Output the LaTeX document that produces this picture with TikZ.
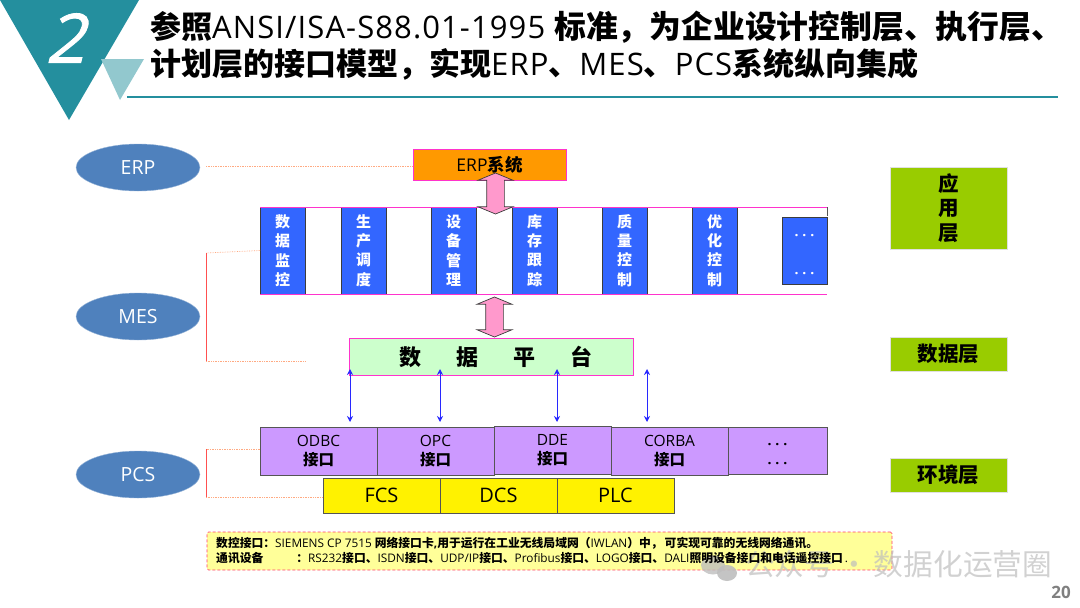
\documentclass[tikz,border=0pt]{standalone}
\usepackage{fontspec}
\setmainfont{Open Sans}
\newfontfamily\cjkfont{Noto Sans CJK SC}
\newfontfamily\numfont[FakeSlant=0.25,FakeBold=1.2]{Open Sans}
\usetikzlibrary{arrows.meta, shapes.geometric, shapes.arrows, positioning}
\newcommand{\cn}[1]{{\cjkfont\bfseries #1}}
\newcommand{\fsz}[2]{\fontsize{#1}{#2}\selectfont}
\newcommand{\dotrow}[1]{\smash{\raisebox{#1}{\bfseries\addfontfeature{LetterSpace=27}···}}}
\definecolor{tealdark}{RGB}{36, 143, 158}
\definecolor{teallight}{RGB}{146, 200, 206}
\definecolor{ovalblue}{RGB}{79, 129, 189}
\definecolor{erporange}{RGB}{255, 153, 0}
\definecolor{bordermagenta}{RGB}{255, 51, 204}
\definecolor{appblue}{RGB}{51, 102, 255}
\definecolor{platgreen}{RGB}{204, 255, 204}
\definecolor{ifacepurple}{RGB}{204, 153, 255}
\definecolor{layergreen}{RGB}{153, 204, 0}
\definecolor{notefill}{RGB}{255, 255, 153}
\definecolor{noteborder}{RGB}{255, 60, 110}
\definecolor{linkorange}{RGB}{255, 170, 130}
\definecolor{linkred}{RGB}{255, 80, 80}
\definecolor{borderdark}{RGB}{85, 85, 85}
\definecolor{markgray}{RGB}{190, 190, 190}
\definecolor{arrowpink}{RGB}{255, 153, 204}
\definecolor{arrowblue}{RGB}{40, 40, 255}
\tikzset{
  ovalbox/.style={
    ellipse, fill=ovalblue, draw=ovalblue!60!white, line width=0.4pt,
    minimum width=124pt, minimum height=47pt, inner sep=0pt,
    text=white, font=\fsz{19.5}{22}
  },
  erpbox/.style={
    rectangle, draw=bordermagenta, fill=erporange, line width=0.8pt,
    minimum width=153pt, minimum height=31pt, inner sep=0pt, font=\fsz{17.5}{20}
  },
  appbox/.style={
    rectangle, draw=borderdark!70!black, fill=appblue, line width=0.8pt, outer sep=0pt,
    minimum width=45pt, minimum height=87pt, inner sep=0pt, align=center,
    text=white, font=\cjkfont\bfseries\fsz{15}{19.4}
  },
  platbox/.style={
    rectangle, draw=bordermagenta, fill=platgreen, line width=0.8pt,
    minimum width=284pt, minimum height=37pt, inner sep=0pt,
    font=\cjkfont\bfseries\fsz{22}{24}
  },
  ifacebox/.style={
    rectangle, draw=borderdark, fill=ifacepurple, line width=0.8pt, outer sep=0pt,
    minimum width=117pt, minimum height=48pt, inner sep=0pt, align=center,
    font=\fsz{15.5}{19}
  },
  ctrlbox/.style={
    rectangle, draw=borderdark, fill=yellow, line width=0.8pt, outer sep=0pt,
    minimum width=117pt, minimum height=35pt, inner sep=0pt, font=\fsz{20}{22}
  },
  layerbox/.style={
    rectangle, draw=black!12, fill=layergreen, line width=0.6pt,
    minimum width=117pt, minimum height=34pt, inner sep=0pt, align=center,
    font=\cjkfont\bfseries\fsz{20.5}{24.5}
  },
  notebox/.style={
    rectangle, rounded corners=1.5pt, draw=noteborder, fill=notefill,
    line width=0.6pt, densely dashed,
    minimum width=685pt, minimum height=38pt, inner sep=0pt
  },
  notetext/.style={anchor=base west, inner sep=0pt, font=\fsz{11.8}{13}},
  titletext/.style={anchor=base west, inner sep=0pt, font=\fsz{31}{34}\addfontfeature{LetterSpace=3.5}},
  bandline/.style={bordermagenta, line width=1pt},
  dotlink/.style={linkorange, line width=0.7pt, densely dotted},
  redlink/.style={linkred, line width=0.7pt},
  pinkarrow/.style={
    double arrow, rotate=90, draw=borderdark!70!black, fill=arrowpink, line width=0.7pt,
    minimum height=41pt, minimum width=34pt, inner xsep=0pt, inner ysep=8.5pt,
    double arrow head extend=8.5pt, double arrow tip angle=135
  },
  bluearrow/.style={{Stealth[length=6pt,width=6pt]}-{Stealth[length=6pt,width=6pt]}, arrowblue, line width=1pt}
}
\begin{document}
\begin{tikzpicture}[x=1pt, y=-1pt]
  \useasboundingbox (0,0) rectangle (1080,608);

  %% ---- Heading ----
  \fill[tealdark] (0,0) -- (139,0) -- (69,120) -- cycle;
  \fill[teallight] (101,59) -- (144,59) -- (120,100) -- cycle;
  \draw[tealdark, line width=1.2pt] (127,97) -- (1058,97);
  \node[text=white, inner sep=0pt, font=\numfont\fsz{68}{70}] (headnum) at (65,38) {2};
  \node[titletext] (title1) at (150,38)
    {\cn{参照}ANSI/ISA-S88.01-1995 \cn{\fsz{31.8}{34}标准，为企业设计控制层、执行层、}};
  \node[titletext] (title2) at (150,75)
    {\cn{计划层的接口模型，实现}ERP\cn{、}MES\cn{、}PCS\cn{系统纵向集成}};

  %% ---- Left column ----
  \node[ovalbox] (erp) at (138,167.5) {ERP};
  \node[ovalbox] (mes) at (138,316.5) {MES};
  \node[ovalbox] (pcs) at (138,474.5) {PCS};

  %% ---- ERP system ----
  \node[erpbox] (erpsys) at (489.5,164.5) {ERP\cn{系统}};

  %% ---- MES band ----
  \coordinate (bandnw) at (260,207);
  \coordinate (bandne) at (827,207);
  \coordinate (bandsw) at (260,294);
  \coordinate (bandse) at (827,294);
  \coordinate (bandstub) at (827,216);
  \draw[borderdark, line width=0.8pt] (bandne) -- (bandstub);

  \node[appbox] (app1) at (282.5,250.5) {数\\据\\监\\控};
  \node[appbox, right=36pt of app1] (app2) {生\\产\\调\\度};
  \node[appbox, right=45pt of app2] (app3) {设\\备\\管\\理};
  \node[appbox, right=36pt of app3] (app4) {库\\存\\跟\\踪};
  \node[appbox, right=45pt of app4] (app5) {质\\量\\控\\制};
  \node[appbox, right=45pt of app5] (app6) {优\\化\\控\\制};
  \node[appbox, minimum height=67pt, font=\fsz{14}{38}] (app7) at (804.5,250.5) {\dotrow{-8.5pt}\\\dotrow{-8.5pt}};

  \draw[bandline] (bandnw) -- (bandne);
  \draw[bandline] (bandsw) -- (bandse);

  %% ---- Data platform ----
  \node[platbox] (plat) at (491,356.5)
    {\hspace{10pt}数\hspace{35pt}据\hspace{35pt}平\hspace{35pt}台};

  %% ---- Interfaces ----
  \node[ifacebox] (odbc) at (318.5,451) {ODBC\\\cn{接口}};
  \node[ifacebox, right=0pt of odbc] (opc) {OPC\\\cn{接口}};
  \node[ifacebox, right=0pt of opc, yshift=1pt] (dde) {DDE\\\cn{接口}};
  \node[ifacebox, right=0pt of dde, yshift=-1pt] (corba) {CORBA\\\cn{接口}};
  \node[ifacebox, minimum width=99pt, minimum height=47pt, font=\fsz{14}{19}] (ifmore) at (777.5,450.5) {\dotrow{-8pt}\\\dotrow{-8pt}};

  %% ---- Control systems ----
  \node[ctrlbox] (fcs) at (381.5,495.5) {FCS};
  \node[ctrlbox, right=0pt of fcs] (dcs) {DCS};
  \node[ctrlbox, right=0pt of dcs] (plc) {PLC};

  %% ---- Layers ----
  \node[layerbox, minimum height=82pt] (applayer) at (948.5,208) {应\\用\\层};
  \node[layerbox] (datalayer) at (948.5,354) {数据层};
  \node[layerbox] (envlayer) at (948.5,475) {环境层};

  %% ---- Level links ----
  \coordinate (erpend) at (206,166);
  \coordinate (mestop) at (206,253);
  \coordinate (mesbot) at (206,361);
  \coordinate (mesfoot) at (305,361);
  \coordinate (pcstop) at (206,449);
  \coordinate (pcsbot) at (206,497);
  \draw[dotlink] (erpend) -- (erpsys.west |- erpend);
  \draw[dotlink] (app1.west) -- (mestop);
  \draw[redlink] (mestop) -- (mesbot);
  \draw[dotlink] (mesbot) -- (mesfoot);
  \draw[dotlink] (odbc.west |- pcstop) -- (pcstop);
  \draw[redlink] (pcstop) -- (pcsbot);
  \draw[dotlink] (pcsbot) -- (fcs.west |- pcsbot);

  %% ---- Pink double arrows ----
  \node[pinkarrow] (arrowtop) at (495.5,193.5) {};
  \node[pinkarrow, minimum height=40pt] (arrowmid) at (494.5,317) {};

  %% ---- Blue arrows ----
  \coordinate (link1) at (350,369);
  \coordinate (link2) at (440,369);
  \coordinate (link3) at (557,369);
  \coordinate (link4) at (647,369);
  \draw[bluearrow] (link1) -- ([yshift=5pt]link1 |- odbc.north);
  \draw[bluearrow] (link2) -- ([yshift=5pt]link2 |- opc.north);
  \draw[bluearrow] (link3) -- ([yshift=4pt]link3 |- dde.north);
  \draw[bluearrow] (link4) -- ([yshift=5pt]link4 |- corba.north);

  %% ---- Note box, mark under its text ----
  \node[notebox] (note) at (549.5,551) {};
  \node[ellipse, fill=markgray, opacity=0.8, minimum width=24pt, minimum height=19pt, inner sep=0pt] (bubble1) at (713,565) {};
  \node[ellipse, fill=markgray, opacity=0.9, minimum width=20pt, minimum height=16pt, inner sep=0pt] (bubble2) at (727,573) {};
  \node[anchor=base west, inner sep=0pt, text=markgray, opacity=0.7, font=\cjkfont\fsz{29.7}{32}] (mark) at (745,575)
    {公众号\hspace{5pt}·\hspace{5pt}数据化运营圈};

  \node[notetext] (note1) at (216,547)
    {\cn{数控接口：}SIEMENS CP 7515 \cn{网络接口卡}\textbf{,}\cn{用于运行在工业无线局域网（}IWLAN\cn{）中，\,可实现可靠的无线网络通讯。}};
  \node[notetext] (note2) at (216,562)
    {\cn{通讯设备}\hspace{33pt}\cn{：}RS232\cn{接口、}ISDN\cn{接口、}UDP/IP\cn{接口、}Profibus\cn{接口、}LOGO\cn{接口、}DALI\cn{照明设备接口和电话遥控接口}\,.};

  %% ---- Page number ----
  \node[text=black!50, font=\bfseries\fsz{17}{19}, inner sep=0pt] (pageno) at (1061,592) {20};
\end{tikzpicture}
\end{document}
